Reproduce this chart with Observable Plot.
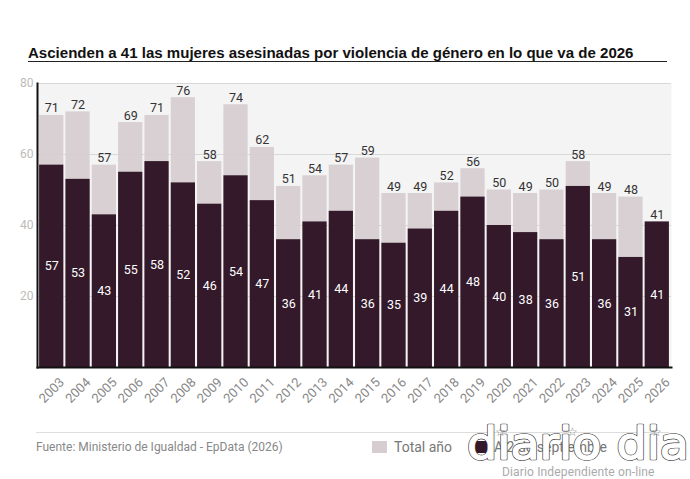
<!DOCTYPE html>
<html>
<head>
<meta charset="utf-8">
<script src="https://cdn.jsdelivr.net/npm/d3@7"></script>
<script src="https://cdn.jsdelivr.net/npm/@observablehq/plot@0.6"></script>
<style>
html,body{margin:0;padding:0;background:#fff;width:690px;height:479px;overflow:hidden;position:relative}
#title{position:absolute;left:28px;top:44px;width:639px;height:17px;border-bottom:1.5px solid #222;font:bold 15.05px/18px "Liberation Sans",Arial,sans-serif;color:#111;white-space:nowrap}
#chart{position:absolute;left:0;top:63px}
#foot{position:absolute;left:36px;top:432px;width:633px;border-top:1px solid #ddd}
#src{position:absolute;left:36px;top:440px;font:12px/15px Roboto,sans-serif;color:#888}
.lg{position:absolute;top:439px;font:14px/17px Roboto,sans-serif;color:#777;white-space:nowrap}
.sw{position:absolute;top:441px;width:15px;height:12px}
#logo{position:absolute;left:0;top:0;pointer-events:none}
#tag{position:absolute;left:502px;top:465px;font:12px/14px Roboto,sans-serif;letter-spacing:.15px;color:#aaa;white-space:nowrap}
</style>
</head>
<body>
<div id="title"></div>
<div id="chart"></div>
<div id="foot"></div>
<div id="src">Fuente: Ministerio de Igualdad - EpData (2026)</div>
<div class="sw" style="left:372px;background:#d6cdd0"></div>
<div class="lg" style="left:394px">Total año</div>
<div class="sw" style="left:472px;background:#33192a"></div>
<div class="lg" style="left:494px">A 2 de septiembre</div>
<svg id="logo" width="690" height="479">
  <g font-family="DejaVu Sans" font-size="44" stroke-linejoin="round" stroke-linecap="round">
    <text x="467" y="459" textLength="222" lengthAdjust="spacingAndGlyphs" fill="none" stroke="#333" stroke-width="2.6">diario dia</text>
    <text x="467" y="459" textLength="222" lengthAdjust="spacingAndGlyphs" fill="#fff" stroke="#fff" stroke-width="1.4">diario dia</text>
  </g>
  <g font-family="DejaVu Sans" font-size="12" fill="#888">
    <text x="495" y="436">☆</text><text x="567" y="436">☆</text><text x="651" y="436">☆</text>
  </g>
</svg>
<div id="tag">Diario Independiente on-line</div>
<script>
const years = ["2003","2004","2005","2006","2007","2008","2009","2010","2011","2012","2013","2014","2015","2016","2017","2018","2019","2020","2021","2022","2023","2024","2025","2026"];
const totals = [71,72,57,69,71,76,58,74,62,51,54,57,59,49,49,52,56,50,49,50,58,49,48,41];
const partial = [57,53,43,55,58,52,46,54,47,36,41,44,36,35,39,44,48,40,38,36,51,36,31,41];
const titleText = "Ascienden a 41 las mujeres asesinadas por violencia de género en lo que va de 2026";
document.getElementById("title").textContent = titleText;
const rows = years.map((y,i)=>({year:y,total:totals[i],partial:partial[i]}));
const font = "Roboto, sans-serif";
const plot = Plot.plot({
  width:690, height:350,
  marginLeft:37, marginRight:19, marginTop:20, marginBottom:46,
  style:{background:"transparent",fontFamily:font,overflow:"visible"},
  x:{domain:years,padding:0.08,round:false,label:null,axis:null},
  y:{domain:[0,80],label:null},
  marks:[
    Plot.frame({fill:"#f5f4f4",stroke:null}),
    Plot.gridY([20,40,60,80],{stroke:"#d8d8d8",strokeOpacity:1,strokeWidth:1}),
    Plot.barY(rows,{x:"year",y:"total",fill:"#d6cdd0",fillOpacity:0.95}),
    Plot.barY(rows,{x:"year",y:"partial",fill:"#33192a"}),
    Plot.text(rows,{x:"year",y:"total",text:d=>String(d.total),dy:-7,fontSize:12.5,fill:"#333",fontFamily:font}),
    Plot.text(rows,{x:"year",y:d=>d.partial/2,text:d=>String(d.partial),fontSize:12.5,fill:"#fff",fontFamily:font}),
    Plot.axisY({ticks:[20,40,60,80],tickSize:0,tickPadding:4,fontSize:12,color:"#bbb",label:null,fontFamily:font}),
    Plot.frame({anchor:"left",stroke:"#111",strokeWidth:2}),
    Plot.frame({anchor:"bottom",stroke:"#111",strokeWidth:2}),
    Plot.text(years,{x:d=>d,y:()=>0,text:d=>d,rotate:-45,dy:23,fontSize:13,fill:"#888",fontFamily:font,textAnchor:"middle"})
  ]
});
document.getElementById("chart").appendChild(plot);
</script>
</body>
</html>
